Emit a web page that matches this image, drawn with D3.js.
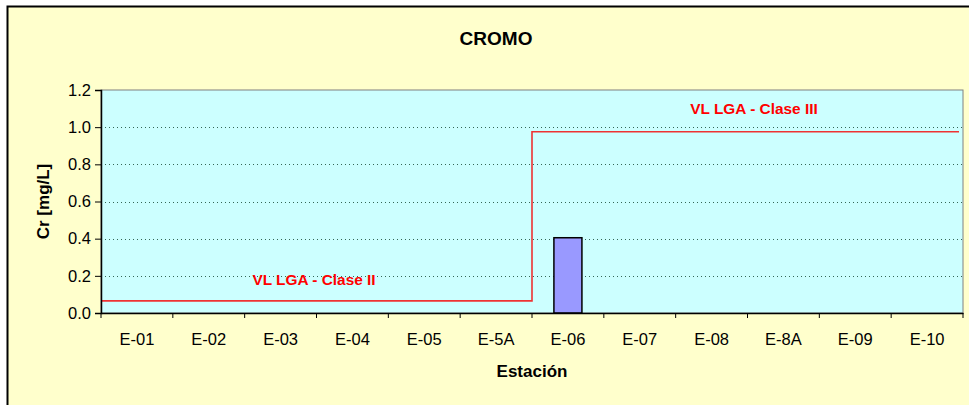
<!DOCTYPE html>
<html lang="es">
<head>
<meta charset="UTF-8">
<title>CROMO</title>
<script src="https://d3js.org/d3.v7.min.js"></script>
<style>
    body { margin: 0; background: #ffffff; }
    svg { display: block; font-family: "Liberation Sans", Arial, sans-serif; }
    .tick text { font-size: 16.5px; fill: #000; }
</style>
</head>
<body>
<svg id="chart" width="969" height="405"></svg>
<script>
    // data
    let stations = ["E-01","E-02","E-03","E-04","E-05","E-5A","E-06","E-07","E-08","E-8A","E-09","E-10"];
    let crValues = [null,null,null,null,null,null,0.405,null,null,null,null,null];
    let limitClaseII = 0.065;   // first six stations
    let limitClaseIII = 0.975;  // remaining stations
    let yTicks = [0,0.2,0.4,0.6,0.8,1.0,1.2];

    let svg = d3.select("#chart");
    let margin = {left: 101, right: 6, top: 90, bottom: 92};
    let W = 969, H = 405;

    // outer chart area
    svg.append("rect").attr("x", 7.5).attr("y", 6.5).attr("width", W).attr("height", H)
        .attr("fill", "#ffffcc").attr("stroke", "#000").attr("stroke-width", 2);

    let x = d3.scaleBand().domain(stations).range([margin.left, W - margin.right]);
    let y = d3.scaleLinear().domain([0, 1.2]).range([H - margin.bottom, margin.top]);

    // plot area
    svg.append("rect")
        .attr("x", margin.left).attr("y", margin.top)
        .attr("width", x.range()[1] - margin.left).attr("height", y(0) - margin.top)
        .attr("fill", "#ccffff").attr("stroke", "#808080").attr("stroke-width", 1);

    // gridlines
    svg.append("g").selectAll("line")
        .data(yTicks.filter(d => d > 0 && d < 1.2))
        .join("line")
        .attr("x1", margin.left).attr("x2", x.range()[1])
        .attr("y1", d => Math.round(y(d)) + 0.5).attr("y2", d => Math.round(y(d)) + 0.5)
        .attr("stroke", "#336655").attr("stroke-width", 1).attr("stroke-dasharray", "1,3");

    // bars
    svg.append("g").selectAll("rect")
        .data(stations.map((s, i) => ({s: s, v: crValues[i]})).filter(d => d.v != null))
        .join("rect")
        .attr("x", d => x(d.s) + x.bandwidth() * 0.305)
        .attr("width", x.bandwidth() * 0.39)
        .attr("y", d => y(d.v))
        .attr("height", d => y(0) - y(d.v))
        .attr("fill", "#9999ff").attr("stroke", "#000").attr("stroke-width", 1.5);

    // limit line (step)
    let step = x("E-06");
    let limitPts = [
        [x.range()[0], y(limitClaseII)],
        [step, y(limitClaseII)],
        [step, y(limitClaseIII)],
        [x.range()[1] - 4, y(limitClaseIII)]
    ];
    svg.append("path")
        .attr("d", d3.line()(limitPts))
        .attr("fill", "none").attr("stroke", "#ee3333").attr("stroke-width", 1.6);

    // axes
    let xAxis = d3.axisBottom(x).tickSize(0).tickPadding(20);
    let gx = svg.append("g").attr("transform", "translate(0," + y(0) + ")").call(xAxis);
    gx.select(".domain").attr("stroke", "#000").attr("stroke-width", 1.5);
    gx.selectAll(".tick text").attr("font-family", "Liberation Sans, Arial, sans-serif");
    gx.append("g").selectAll("line")
        .data(stations.map(s => x(s)).concat([x.range()[1]]))
        .join("line")
        .attr("x1", d => d).attr("x2", d => d).attr("y1", 0).attr("y2", 5)
        .attr("stroke", "#000");

    let yAxis = d3.axisLeft(y).tickValues(yTicks).tickFormat(d3.format(".1f")).tickSize(6).tickPadding(4);
    let gy = svg.append("g").attr("transform", "translate(" + margin.left + ",0)").call(yAxis);
    gy.select(".domain").attr("stroke", "#000").attr("stroke-width", 1.5);
    gy.selectAll(".tick text").attr("font-family", "Liberation Sans, Arial, sans-serif");

    // texts
    svg.append("text").attr("x", 496).attr("y", 45).attr("text-anchor", "middle")
        .attr("font-size", "19px").attr("font-weight", "bold").text("CROMO");
    svg.append("text").attr("transform", "translate(49," + ((margin.top + y(0)) / 2) + ") rotate(-90)")
        .attr("text-anchor", "middle").attr("font-size", "17px").attr("font-weight", "bold").text("Cr [mg/L]");
    svg.append("text").attr("x", 532).attr("y", 377).attr("text-anchor", "middle")
        .attr("font-size", "17px").attr("font-weight", "bold").text("Estación");
    svg.append("text").attr("x", 314).attr("y", 285).attr("text-anchor", "middle")
        .attr("font-size", "15.4px").attr("font-weight", "bold").attr("fill", "#ff0000").text("VL LGA - Clase II");
    svg.append("text").attr("x", 754).attr("y", 114).attr("text-anchor", "middle")
        .attr("font-size", "15.4px").attr("font-weight", "bold").attr("fill", "#ff0000").text("VL LGA - Clase III");
</script>
</body>
</html>
